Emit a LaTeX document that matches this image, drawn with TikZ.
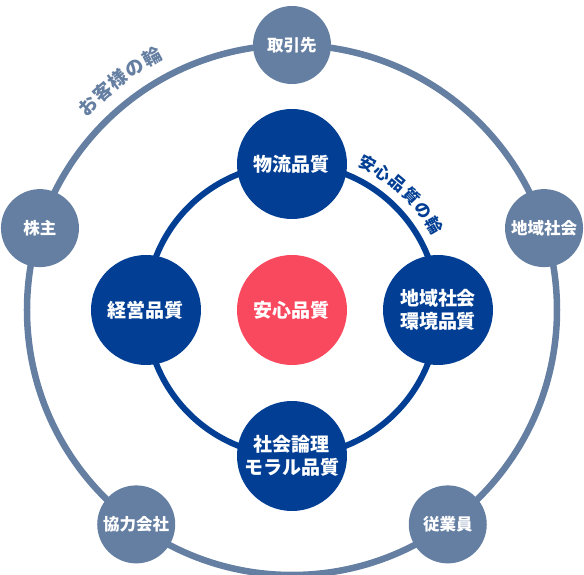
\documentclass[tikz,border=0pt]{standalone}
\usepackage{fontspec}
\setmainfont{Noto Sans CJK JP}
\definecolor{outerc}{RGB}{101,127,162}
\definecolor{innerc}{RGB}{2,63,148}
\definecolor{redc}{RGB}{249,73,95}
\tikzset{
  outernode/.style={circle,fill=outerc,minimum size=78pt,inner sep=0pt,text=white,font=\fontsize{16.5}{20}\selectfont\bfseries,align=center},
  innernode/.style={circle,fill=innerc,minimum size=110pt,inner sep=0pt,text=white,font=\fontsize{19}{23}\selectfont\bfseries,align=center},
  centernode/.style={innernode,fill=redc},
  ringlabel/.style={inner sep=0pt,font=\fontsize{18.5}{18.5}\selectfont\bfseries},
}
\begin{document}
\begin{tikzpicture}[x=1pt,y=1pt]
\useasboundingbox (-292,-265) rectangle (292,310);
\coordinate (c) at (0,0);
% rings
\draw[outerc,line width=6.5pt] (c) circle (265);
\draw[innerc,line width=6pt] (c) circle (146);
% outer nodes
\node[outernode] (torihiki) at (90:265) {取引先};
\node[outernode] (kabunushi) at (162:265) {株主};
\node[outernode] (chiiki) at (18:265) {地域社会};
\node[outernode] (kyoryoku) at (234:265) {協力会社};
\node[outernode] (jugyoin) at (306:265) {従業員};
% inner nodes
\node[innernode] (butsuryu) at (90:146) {物流品質};
\node[innernode] (keiei) at (180:146) {経営品質};
\node[innernode] (kankyo) at (0:146) {地域社会\\環境品質};
\node[innernode] (moral) at (270:146) {社会論理\\モラル品質};
\node[centernode] (anshin) at (c) {安心品質};
% ring labels
\foreach \ch [count=\i from 0] in {お,客,様,の,輪}{
  \pgfmathsetmacro{\ang}{135-4*\i}
  \node[ringlabel,text=outerc,rotate=\ang-90] (ol\i) at (\ang:289) {\ch};
}
\foreach \ch [count=\i from 0] in {安,心,品,質,の,輪}{
  \pgfmathsetmacro{\ang}{62.8-6.42*\i}
  \node[ringlabel,text=innerc,font=\fontsize{16.5}{16.5}\selectfont\bfseries,rotate=\ang-90] (il\i) at (\ang:165) {\ch};
}
\end{tikzpicture}
\end{document}
